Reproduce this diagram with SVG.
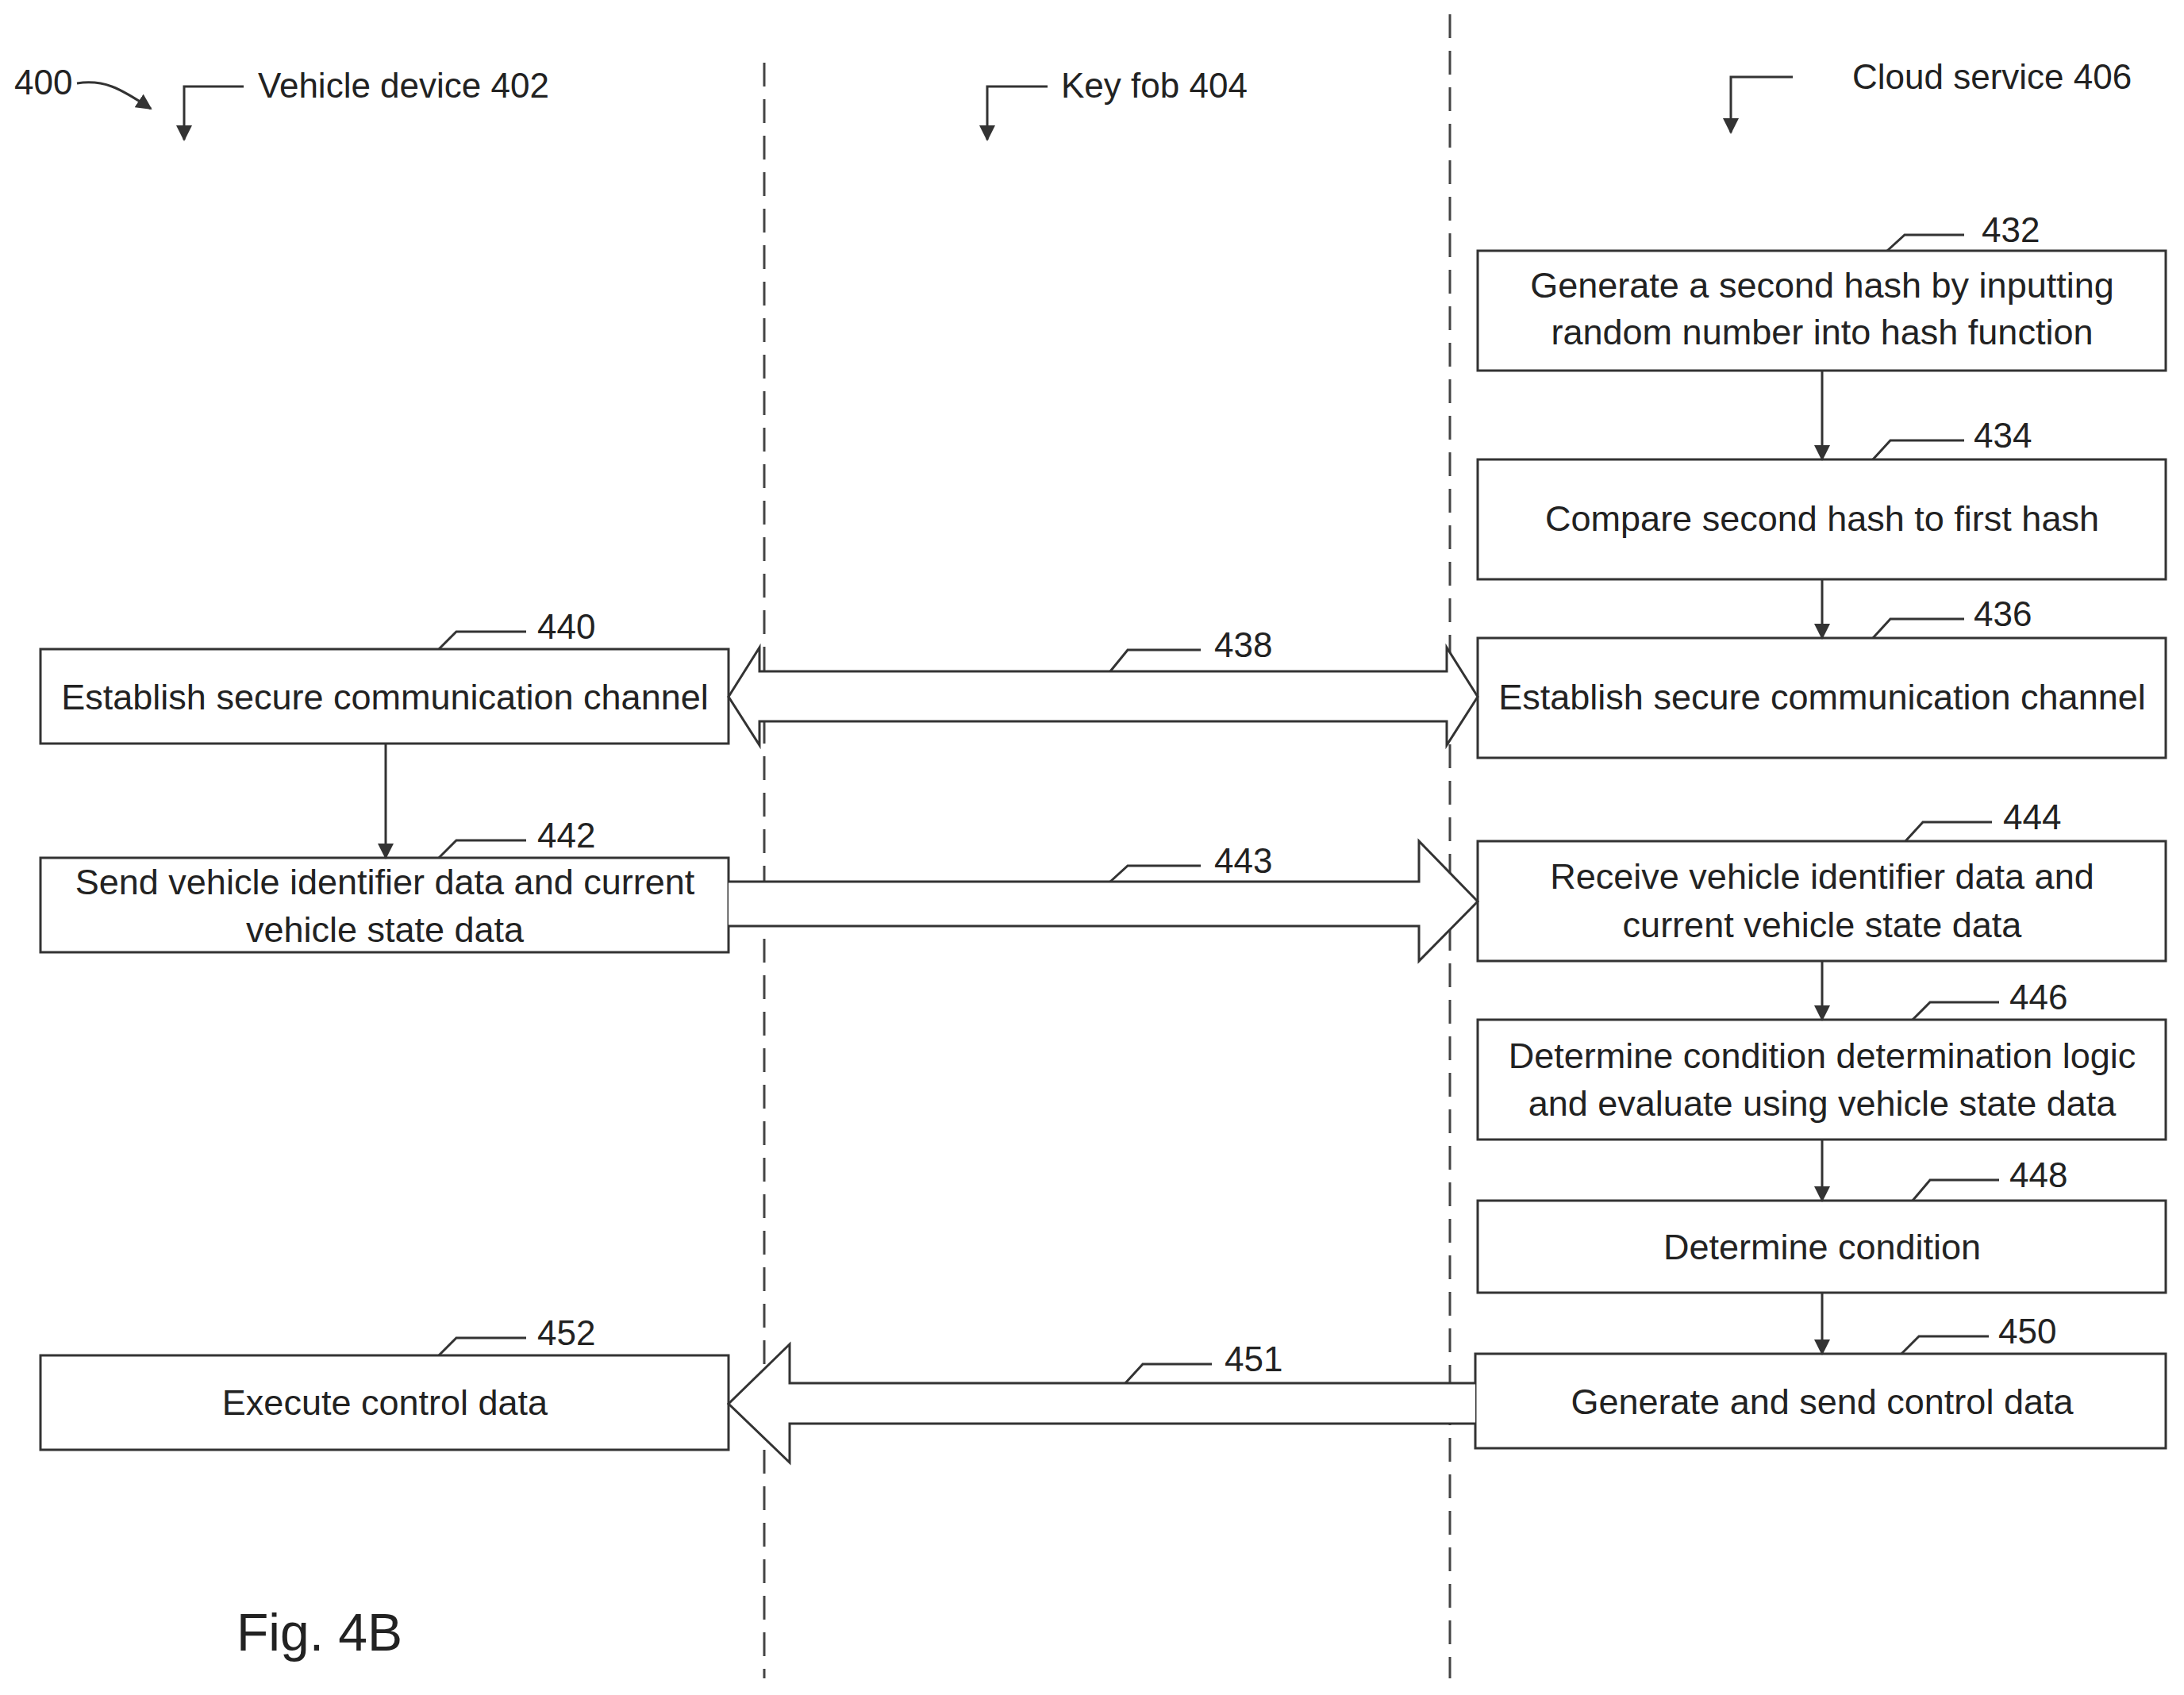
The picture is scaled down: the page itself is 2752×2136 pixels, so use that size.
<svg xmlns="http://www.w3.org/2000/svg" width="2752" height="2136" viewBox="0 0 2752 2136">
<defs>
<marker id="ah2" markerWidth="20" markerHeight="20" refX="18" refY="10" orient="auto" markerUnits="userSpaceOnUse"><path d="M0,0 L20,10 L0,20 Z" fill="#333"/></marker>
</defs>
<style>
.b{fill:#fff;stroke:#333;stroke-width:3}
.t{font-family:"Liberation Sans",Arial,sans-serif;font-size:45px;fill:#222;text-anchor:middle}
.l{font-family:"Liberation Sans",Arial,sans-serif;font-size:44px;fill:#222}
.ln{fill:none;stroke:#333;stroke-width:3}
.d{stroke:#444;stroke-width:3;stroke-dasharray:30,16;fill:none}
</style>
<rect width="2752" height="2136" fill="#fff"/>
<g id="lanes">
<line class="d" x1="963" y1="79" x2="963" y2="2115"/>
<line class="d" x1="1827" y1="18" x2="1827" y2="2115"/>
</g>
<g id="headers">
<text class="l" x="18" y="119">400</text>
<path class="ln" d="M97,105 C130,100 150,110 190,137" marker-end="url(#ah2)"/>
<text class="l" x="325" y="123">Vehicle device 402</text>
<path class="ln" d="M307,109 H232 V176" marker-end="url(#ah2)"/>
<text class="l" x="1337" y="123">Key fob 404</text>
<path class="ln" d="M1320,109 H1244 V176" marker-end="url(#ah2)"/>
<text class="l" x="2334" y="112">Cloud service 406</text>
<path class="ln" d="M2259,97 H2181 V167" marker-end="url(#ah2)"/>
</g>
<g id="n432"><rect class="b" x="1862" y="316" width="867" height="151"/><text class="t" x="2296" y="375">Generate a second hash by inputting</text><text class="t" x="2296" y="434">random number into hash function</text></g>
<g id="n434"><rect class="b" x="1862" y="579" width="867" height="151"/><text class="t" x="2296" y="669">Compare second hash to first hash</text></g>
<g id="n436"><rect class="b" x="1862" y="804" width="867" height="151"/><text class="t" x="2296" y="894">Establish secure communication channel</text></g>
<g id="n444"><rect class="b" x="1862" y="1060" width="867" height="151"/><text class="t" x="2296" y="1120">Receive vehicle identifier data and</text><text class="t" x="2296" y="1181">current vehicle state data</text></g>
<g id="n446"><rect class="b" x="1862" y="1285" width="867" height="151"/><text class="t" x="2296" y="1346">Determine condition determination logic</text><text class="t" x="2296" y="1406">and evaluate using vehicle state data</text></g>
<g id="n448"><rect class="b" x="1862" y="1513" width="867" height="116"/><text class="t" x="2296" y="1587">Determine condition</text></g>
<g id="n450"><rect class="b" x="1859" y="1706" width="870" height="119"/><text class="t" x="2296" y="1782">Generate and send control data</text></g>
<g id="n440"><rect class="b" x="51" y="818" width="867" height="119"/><text class="t" x="485" y="894">Establish secure communication channel</text></g>
<g id="n442"><rect class="b" x="51" y="1081" width="867" height="119"/><text class="t" x="485" y="1127">Send vehicle identifier data and current</text><text class="t" x="485" y="1187">vehicle state data</text></g>
<g id="n452"><rect class="b" x="51" y="1708" width="867" height="119"/><text class="t" x="485" y="1783">Execute control data</text></g>
<g id="connectors">
<path class="b" d="M918,878 L957,816 V846 H1823 V816 L1862,878 L1823,939 V909 H957 V939 Z"/>
<path class="b" d="M918,1111 H1788 V1060 L1862,1136 L1788,1211 V1167 H918"/>
<path class="b" d="M1859,1743 H995 V1694 L918,1769 L995,1843 V1794 H1859"/>
<g class="ln">
<line x1="2296" y1="467" x2="2296" y2="579" marker-end="url(#ah2)"/>
<line x1="2296" y1="730" x2="2296" y2="804" marker-end="url(#ah2)"/>
<line x1="2296" y1="1211" x2="2296" y2="1285" marker-end="url(#ah2)"/>
<line x1="2296" y1="1436" x2="2296" y2="1513" marker-end="url(#ah2)"/>
<line x1="2296" y1="1629" x2="2296" y2="1706" marker-end="url(#ah2)"/>
<line x1="486" y1="937" x2="486" y2="1081" marker-end="url(#ah2)"/>
</g>
</g>
<g id="labels">
<path class="ln" d="M2378,316 L2400,296 H2475"/><text class="l" x="2497" y="305">432</text>
<path class="ln" d="M2360,579 L2382,555 H2475"/><text class="l" x="2487" y="564">434</text>
<path class="ln" d="M2360,804 L2382,780 H2475"/><text class="l" x="2487" y="789">436</text>
<path class="ln" d="M553,818 L575,796 H663"/><text class="l" x="677" y="805">440</text>
<path class="ln" d="M1399,846 L1421,819 H1513"/><text class="l" x="1530" y="828">438</text>
<path class="ln" d="M553,1081 L575,1059 H663"/><text class="l" x="677" y="1068">442</text>
<path class="ln" d="M1399,1111 L1421,1091 H1513"/><text class="l" x="1530" y="1100">443</text>
<path class="ln" d="M2401,1060 L2423,1036 H2510"/><text class="l" x="2524" y="1045">444</text>
<path class="ln" d="M2410,1285 L2432,1263 H2519"/><text class="l" x="2532" y="1272">446</text>
<path class="ln" d="M2410,1513 L2432,1487 H2519"/><text class="l" x="2532" y="1496">448</text>
<path class="ln" d="M2396,1706 L2418,1684 H2506"/><text class="l" x="2518" y="1693">450</text>
<path class="ln" d="M1418,1743 L1440,1719 H1527"/><text class="l" x="1543" y="1728">451</text>
<path class="ln" d="M553,1708 L575,1686 H663"/><text class="l" x="677" y="1695">452</text>
</g>
<text class="l" x="298" y="2080" style="font-size:66px">Fig. 4B</text>
</svg>
